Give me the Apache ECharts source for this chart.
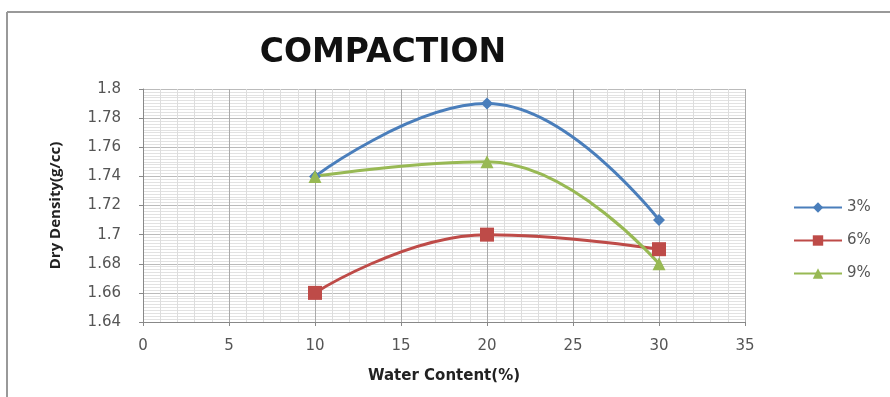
<!DOCTYPE html>
<html><head><meta charset="utf-8">
<script src="https://cdn.jsdelivr.net/npm/echarts@6/dist/echarts.min.js"></script>
<style>html,body{margin:0;padding:0;background:#fff}#c{width:890px;height:397px}</style>
</head><body><div id="c"></div>
<script>
const waterContent = [10, 20, 30];
const s3 = [1.74, 1.79, 1.71];
const s6 = [1.66, 1.70, 1.69];
const s9 = [1.74, 1.75, 1.68];
const seriesNames = ['3%', '6%', '9%'];
const yTicks = [1.64, 1.8];
const xTicks = [0, 35];

const pair = arr => waterContent.map((x, i) => [x, arr[i]]);
const chart = echarts.init(document.getElementById('c'));
const lab = {color: '#555', fontFamily: 'DejaVu Sans', fontSize: 15};
chart.setOption({
  animation: false,
  title: {text: 'COMPACTION', left: 378, top: 32, textAlign: 'center',
    textStyle: {fontFamily: 'DejaVu Sans', fontWeight: 'bold', fontSize: 33, color: '#111'}},
  graphic: [
    {type: 'line', shape: {x1: 7, y1: 12, x2: 890, y2: 12}, style: {stroke: '#999', lineWidth: 2}},
    {type: 'line', shape: {x1: 7, y1: 12, x2: 7, y2: 397}, style: {stroke: '#999', lineWidth: 2}}
  ],
  grid: {left: 143, right: 145, top: 89, bottom: 75},
  legend: {orient: 'vertical', left: 788, top: 195, itemGap: 18, itemWidth: 48, itemHeight: 13,
    textStyle: {color: '#555', fontFamily: 'DejaVu Sans', fontSize: 15},
    data: seriesNames.map(n => ({name: n}))},
  xAxis: {type: 'value', min: xTicks[0], max: xTicks[1], interval: 5,
    name: 'Water Content(%)', nameLocation: 'middle', nameGap: 47,
    nameTextStyle: {fontFamily: 'DejaVu Sans', fontWeight: 'bold', fontSize: 15, color: '#222'},
    axisLine: {lineStyle: {color: '#888'}}, axisTick: {show: true, length: 4, lineStyle: {color: '#888'}},
    axisLabel: Object.assign({margin: 17}, lab),
    splitLine: {show: true, lineStyle: {color: '#aaa', width: 1}},
    minorTick: {show: false, splitNumber: 5},
    minorSplitLine: {show: true, lineStyle: {color: '#ddd', width: 1}}},
  yAxis: {type: 'value', min: yTicks[0], max: yTicks[1], interval: 0.02,
    name: 'Dry Density(g/cc)', nameLocation: 'middle', nameGap: 80,
    nameTextStyle: {fontFamily: 'Open Sans', fontWeight: 'bold', fontSize: 15, color: '#222'},
    axisLine: {show: true, lineStyle: {color: '#888'}}, axisTick: {show: true, length: 4, lineStyle: {color: '#888'}},
    axisLabel: Object.assign({margin: 22, formatter: v => String(+v.toFixed(2))}, lab),
    splitLine: {show: true, lineStyle: {color: '#bbb', width: 1}},
    minorTick: {show: false, splitNumber: 10},
    minorSplitLine: {show: true, lineStyle: {color: '#e2e2e2', width: 1}}},
  series: [
    {name: seriesNames[0], type: 'line', data: pair(s3), smooth: 0.45, symbol: 'diamond', symbolSize: 12,
     itemStyle: {color: '#4A7EBB'}, lineStyle: {width: 3, color: '#4A7EBB'}},
    {name: seriesNames[1], type: 'line', data: pair(s6), smooth: 0.45, symbol: 'rect', symbolSize: 14,
     itemStyle: {color: '#BE4B48'}, lineStyle: {width: 3, color: '#BE4B48'}},
    {name: seriesNames[2], type: 'line', data: pair(s9), smooth: 0.45, symbol: 'triangle', symbolSize: 13,
     itemStyle: {color: '#98B954'}, lineStyle: {width: 3, color: '#98B954'}}
  ]
});
</script></body></html>
